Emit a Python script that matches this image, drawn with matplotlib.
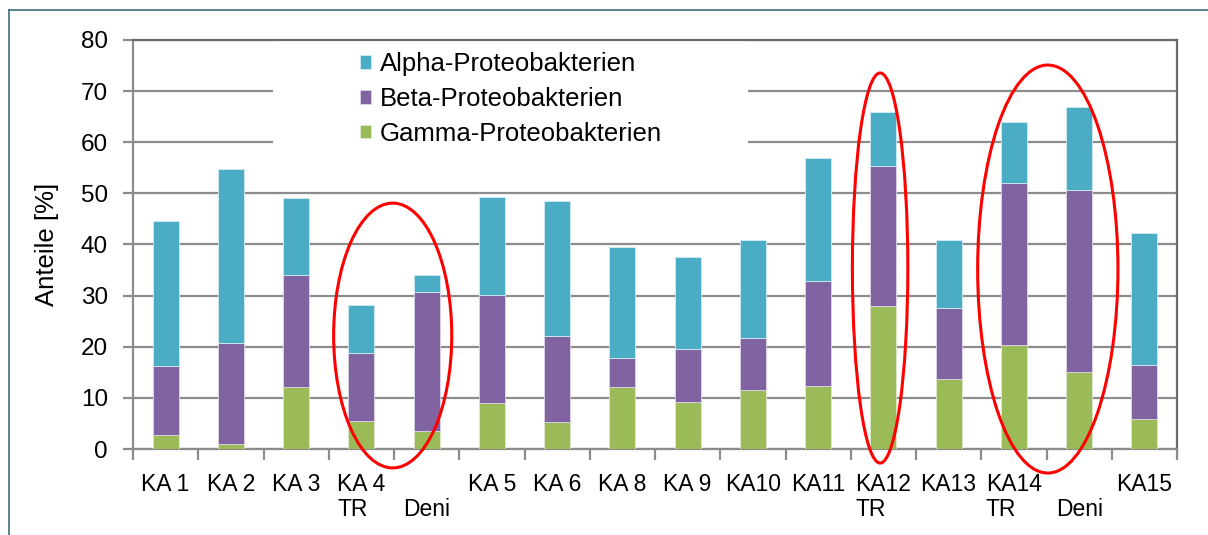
import matplotlib.pyplot as plt
from matplotlib.patches import Ellipse, Rectangle
from matplotlib.lines import Line2D
import numpy as np

plt.rcParams['font.family'] = ['Liberation Sans', 'DejaVu Sans']

# data
labels = ["KA 1", "KA 2", "KA 3", "KA 4\nTR", "\nDeni", "KA 5", "KA 6", "KA 8", "KA 9",
          "KA10", "KA11", "KA12\nTR", "KA13", "KA14\nTR", "\nDeni", "KA15"]
gamma = [2.7, 1.0, 12.1, 5.5, 3.5, 9.0, 5.3, 12.1, 9.2, 11.5, 12.3, 28.0, 13.7, 20.3, 15.1, 5.9]
beta = [13.5, 19.7, 21.9, 13.3, 27.2, 21.1, 16.8, 5.7, 10.4, 10.2, 20.6, 27.4, 13.9, 31.7, 35.6, 10.5]
alpha = [28.4, 34.1, 15.1, 9.4, 3.3, 19.2, 26.4, 21.7, 18.0, 19.2, 24.0, 10.6, 13.3, 12.0, 16.2, 25.9]

c_alpha = "#4BACC6"
c_beta = "#8064A2"
c_gamma = "#9BBB59"
grid_c = "#8c8c8c"

fig = plt.figure(figsize=(12.08, 5.35), dpi=100)
ax = fig.add_axes([133/1208, 86/535, 1044/1208, 409/535])

x = np.arange(len(labels))
w = 0.4
gamma = np.array(gamma)
beta = np.array(beta)
alpha = np.array(alpha)
ax.bar(x, gamma, w, color=c_gamma, edgecolor="#dfe8cf", linewidth=0.6, zorder=3,
       label="Gamma-Proteobakterien")
ax.bar(x, beta, w, bottom=gamma, color=c_beta, edgecolor="#ddd5e8", linewidth=0.6, zorder=3,
       label="Beta-Proteobakterien")
ax.bar(x, alpha, w, bottom=gamma + beta, color=c_alpha, edgecolor="#d3ebf2", linewidth=0.6,
       zorder=3, label="Alpha-Proteobakterien")

ax.set_xlim(-0.5, len(labels) - 0.5)
ax.set_ylim(0, 80)
ax.set_yticks(range(0, 81, 10))
ax.yaxis.grid(True, color=grid_c, linewidth=1.6, zorder=0)
ax.set_axisbelow(True)

# category boundaries as major ticks, labels on minor ticks
ax.set_xticks(np.arange(-0.5, len(labels), 1.0))
ax.set_xticklabels([])
ax.set_xticks(x, minor=True)
ax.set_xticklabels(labels, minor=True, fontsize=16.5, linespacing=1.15)
for lab in ax.get_xticklabels(minor=True):
    lab.set_multialignment("left")
ax.tick_params(axis="x", which="major", length=8, width=1.6, color=grid_c, direction="out")
ax.tick_params(axis="x", which="minor", length=0, pad=17)
ax.tick_params(axis="y", length=7, width=1.6, color=grid_c, labelsize=17.5, pad=11)

for s in ["left", "bottom"]:
    ax.spines[s].set_color(grid_c)
    ax.spines[s].set_linewidth(1.6)
for s in ["top", "right"]:
    ax.spines[s].set_color("#6a6a6a")
    ax.spines[s].set_linewidth(1.6)

ax.set_ylabel("Anteile [%]", fontsize=18.5, labelpad=16)

# white legend area hiding the grid lines
ax.add_patch(Rectangle(((273 - 133) / 1044, (449 - 160) / 409), (748 - 273) / 1044, 120 / 409,
                       transform=ax.transAxes, facecolor="white", edgecolor="none", zorder=1))

h, l = ax.get_legend_handles_labels()
leg = ax.legend(h[::-1], l[::-1], loc="upper left", bbox_to_anchor=((360 - 133) / 1044, 0.970),
                fontsize=18.5, frameon=False, handlelength=0.42, handleheight=0.42,
                handletextpad=0.35, labelspacing=0.42, borderpad=0, borderaxespad=0.0)
leg.set_zorder(4)

# red ellipses marking groups
for cx, cy, ew, eh in [(3.48, 22.2, 1.81, 51.8), (10.95, 35.4, 0.85, 76.3), (13.52, 35.2, 2.15, 79.8)]:
    e = Ellipse((cx, cy), ew, eh, fill=False, edgecolor="red", linewidth=2.2, zorder=5, clip_on=False)
    ax.add_patch(e)

# outer frame (top and left edge)
fig.add_artist(Line2D([9/1208, 1.0], [1 - 10/535, 1 - 10/535], color="#3d6b80", linewidth=1.2))
fig.add_artist(Line2D([9/1208, 9/1208], [0, 1 - 10/535], color="#3d6b80", linewidth=1.2))

fig.savefig("out.png", dpi=100)
